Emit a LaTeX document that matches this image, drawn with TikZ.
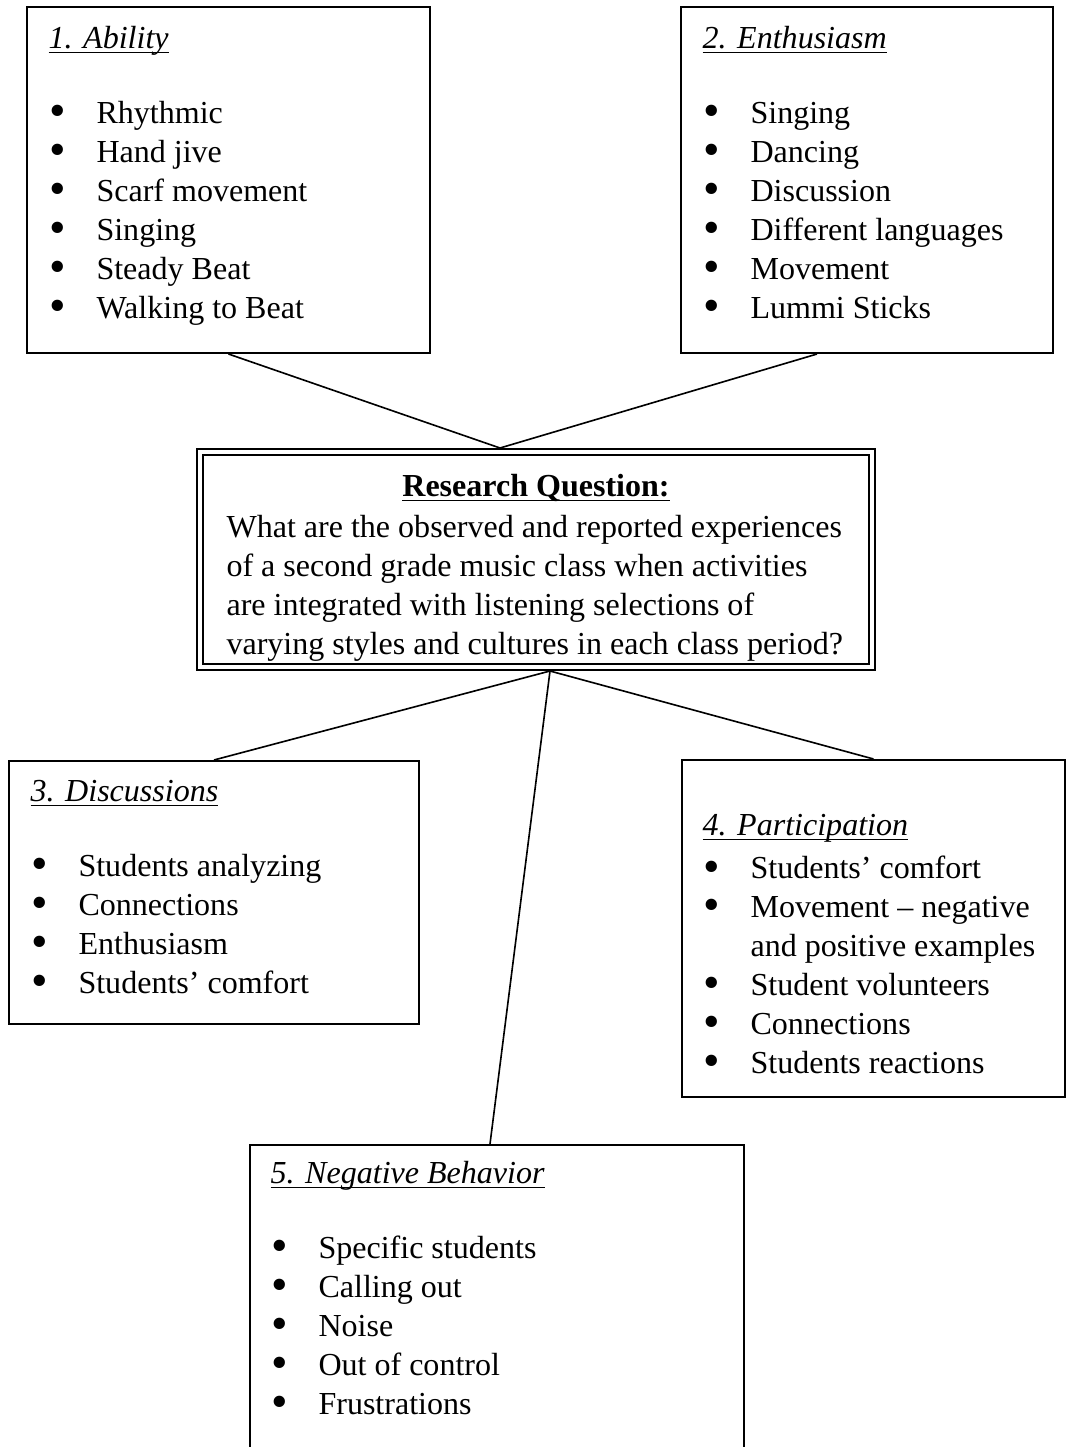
\documentclass[tikz,border=0pt]{standalone}
\usepackage{fontspec}
\setmainfont{Liberation Serif}
\usetikzlibrary{fit,calc}
\newcommand{\itm}{\makebox[17.75pt][l]{\hspace*{0.4pt}\smash{\raisebox{-1.3pt}{\fontsize{17.5}{17.5}\selectfont\textbullet}}}}
\newcommand{\undl}[1]{\setbox0\hbox{#1}\rlap{\rule[-1.7pt]{\wd0}{0.55pt}}\box0}
\tikzset{
  kasten/.style={draw, line width=0.75pt, inner sep=0pt},
  frage/.style={draw, double, double distance=1.5pt, line width=0.7pt, inner sep=0pt},
  txt/.style={anchor=north west, inner sep=0pt, align=left, font=\fontsize{11.85}{14.4}\selectfont},
  linie/.style={line width=0.6pt}
}
\begin{document}
\begin{tikzpicture}[x=0.013cm,y=-0.013cm]
\useasboundingbox (0,0) rectangle (1069,1447);
% Kaesten
\node[kasten, fit={(27,7) (430,353)}] (abil) {};
\node[kasten, fit={(681,7) (1053,353)}] (enth) {};
\node[frage, fit={(200,452) (872,667)}] (quest) {};
\node[kasten, fit={(9,761) (419,1024)}] (disc) {};
\node[kasten, fit={(682,760) (1065,1097)}] (part) {};
\node[kasten, fit={(250,1145) (744,1480)}] (neg) {};

% Texte
\node[txt] (abiltxt) at (48,20.75) {\strut\undl{\textit{1. Ability}}\\[13.3pt]
\itm Rhythmic\\
\itm Hand jive\\
\itm Scarf movement\\
\itm Singing\\
\itm Steady Beat\\
\itm Walking to Beat};
\node[txt] (enthtxt) at (702,20.75) {\strut\undl{\textit{2. Enthusiasm}}\\[13.3pt]
\itm Singing\\
\itm Dancing\\
\itm Discussion\\
\itm Different languages\\
\itm Movement\\
\itm Lummi Sticks};
\node[txt,anchor=north] (questtitle) at (536,468.75) {\strut\undl{\textbf{Research Question:}}};
\node[txt] (questtxt) at (226,509.75) {\strut What are the observed and reported experiences\\
of a second grade music class when activities\\
are integrated with listening selections of\\
varying styles and cultures in each class period?};
\node[txt] (disctxt) at (30,773.75) {\strut\undl{\textit{3. Discussions}}\\[13.3pt]
\itm Students analyzing\\
\itm Connections\\
\itm Enthusiasm\\
\itm Students’ comfort};
\node[txt] (parttxt) at (702,807.75) {\strut\undl{\textit{4. Participation}}\\[1.5pt]
\itm Students’ comfort\\
\itm Movement – negative\\
\hspace*{17.75pt}and positive examples\\
\itm Student volunteers\\
\itm Connections\\
\itm Students reactions};
\node[txt] (negtxt) at (270,1155.75) {\strut\undl{\textit{5. Negative Behavior}}\\[13.3pt]
\itm Specific students\\
\itm Calling out\\
\itm Noise\\
\itm Out of control\\
\itm Frustrations};

% Linien
\coordinate (qtop) at (500,448);
\coordinate (qbot) at (550,671);
\draw[linie] (abil.south) -- (qtop);
\draw[linie] ($(enth.south)+(-50,0)$) -- (qtop);
\draw[linie] (qbot) -- (disc.north);
\draw[linie] (qbot) -- (part.north);
\draw[linie] (qbot) -- ($(neg.north)+(-7,0)$);
\end{tikzpicture}
\end{document}
